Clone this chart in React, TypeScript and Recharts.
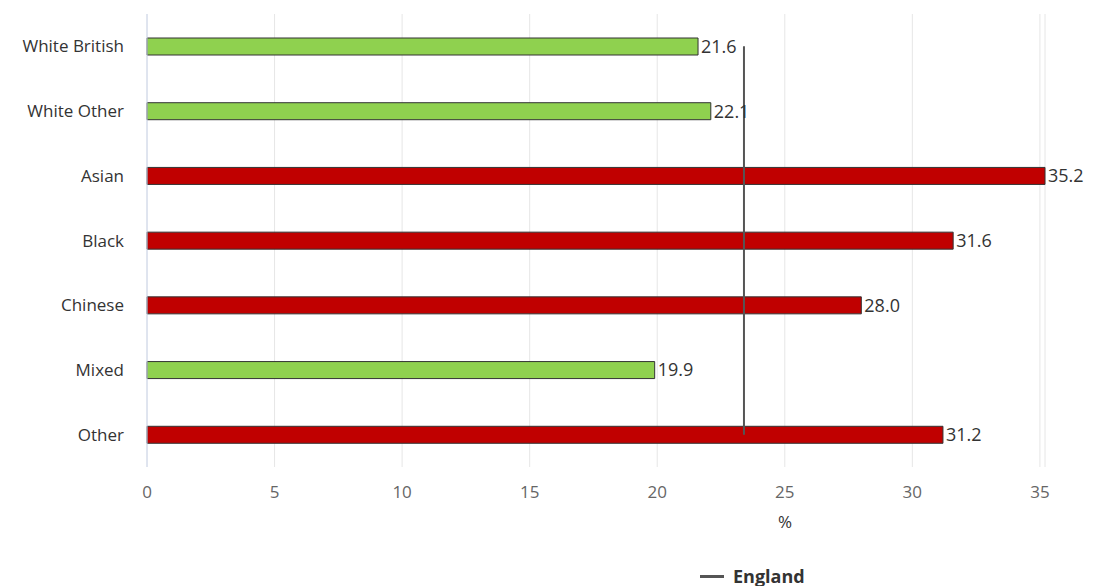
import {
  ComposedChart, Bar, Line, XAxis, YAxis, CartesianGrid, Legend, LabelList, Cell
} from 'recharts'

const groups = ['White British', 'White Other', 'Asian', 'Black', 'Chinese', 'Mixed', 'Other']
const rates = [21.6, 22.1, 35.2, 31.6, 28.0, 19.9, 31.2]
const englandRates = [23.4, 23.4, 23.4, 23.4, 23.4, 23.4, 23.4]
const xTicks = [0, 5, 10, 15, 20, 25, 30, 35]

const chartData = groups.map((g, i) => ({
  group: g,
  rate: rates[i],
  england: englandRates[i],
}))

const FONT = '"Open Sans", "Noto Sans", sans-serif'

const EnglandLegend = () => (
  <div style={{ display: 'flex', alignItems: 'center', fontFamily: FONT, height: 20, lineHeight: '20px' }}>
    <span style={{ display: 'inline-block', width: 24, height: 3, background: '#555', marginRight: 9 }} />
    <span style={{ fontSize: 18, fontWeight: 700, color: '#333' }}>England</span>
  </div>
)

export default function App() {
  return (
    <ComposedChart
      width={1091}
      height={578}
      data={chartData}
      layout="vertical"
      margin={{ top: 6, right: 54, left: 0, bottom: 39 }}
      style={{ fontFamily: FONT }}
    >
      <CartesianGrid horizontal={false} stroke="#e6e6e6" />
      <XAxis
        type="number"
        domain={[0, 35.2]}
        ticks={xTicks}
        axisLine={false}
        tickLine={false}
        tickSize={0}
        tickMargin={19}
        height={60}
        tick={{ fontSize: 17, fill: '#666' }}
        label={{ value: '%', position: 'insideBottom', dx: 189, dy: 6, fill: '#333', fontSize: 17 }}
      />
      <YAxis
        type="category"
        dataKey="group"
        width={139}
        axisLine={{ stroke: '#ccd6eb' }}
        tickLine={false}
        tickSize={0}
        tickMargin={23}
        tick={{ fontSize: 17, fill: '#333' }}
      />
      <Legend
        verticalAlign="bottom"
        content={<EnglandLegend />}
        wrapperStyle={{ left: 692, bottom: 0, width: 'auto', height: 20 }}
      />
      <Bar dataKey="rate" barSize={17} stroke="#333" strokeWidth={1} isAnimationActive={false}>
        {chartData.map((d, i) => (
          <Cell key={i} fill={d.rate > d.england ? '#c00000' : '#8fd14f'} />
        ))}
        <LabelList
          dataKey="rate"
          position="right"
          offset={3}
          formatter={(v: any) => Number(v).toFixed(1)}
          style={{ fontSize: 18, fill: '#333' }}
        />
      </Bar>
      <Line
        dataKey="england"
        type="linear"
        stroke="#555"
        strokeWidth={2}
        dot={false}
        activeDot={false}
        isAnimationActive={false}
      />
    </ComposedChart>
  )
}
